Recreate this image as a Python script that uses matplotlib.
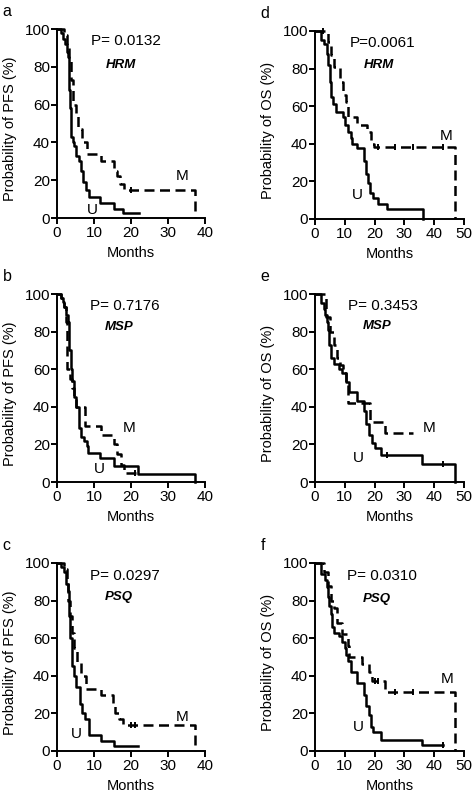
import matplotlib
matplotlib.use('Agg')
import matplotlib.pyplot as plt

plt.rcParams['font.family'] = ['Liberation Sans', 'DejaVu Sans']

# PFS, HRM (a)
a_u_t = [0, 1, 1.6, 2.2, 2.7, 3.0, 3.3, 3.6, 3.9, 4.2, 4.6, 5.2, 6.0, 6.5, 7.0, 7.8, 8.7, 11.7, 15.5, 17.8, 22.2]
a_u_s = [100, 98, 95, 92, 88, 85, 68, 58, 43, 40, 38, 33, 30, 25, 19, 15, 11, 8, 5, 2.5, 2.5]
a_m_t = [0, 2.0, 2.6, 3.2, 3.7, 4.2, 5.0, 5.8, 6.8, 8.0, 12.0, 15.5, 16.2, 17.0, 18.0, 37.2]
a_m_s = [100, 97, 91, 84, 73, 60, 55, 47, 40, 34, 30, 25, 22, 18, 15, 0]
a_m_cens = [(20, 15)]

# PFS, MSP (b)
b_u_t = [0, 1.0, 1.5, 2.0, 2.5, 3.0, 3.3, 3.7, 4.0, 4.5, 5.0, 6.0, 6.5, 7.2, 8.0, 8.5, 11.5, 15.3, 22.0, 37.3]
b_u_s = [100, 98, 96, 93, 89, 85, 70, 60, 54, 45, 40, 29, 24, 22, 19, 15.5, 13, 8.5, 4.5, 0]
b_m_t = [0, 1.0, 2.0, 2.5, 2.8, 3.6, 4.0, 4.5, 5.0, 7.6, 12.0, 15.5, 16.3, 17.2, 18.0, 21.5]
b_m_s = [100, 98, 93, 85, 60, 55, 50, 45, 40, 30, 25, 20, 15, 9, 5, 5]
b_m_cens = [(21, 5)]

# PFS, PSQ (c)
c_u_t = [0, 1.0, 2.0, 2.5, 3.0, 3.3, 3.6, 4.0, 4.5, 5.0, 6.2, 6.8, 7.5, 8.7, 11.8, 15.5, 22.0]
c_u_s = [100, 98, 95, 89, 85, 72, 60, 45, 40, 34, 25, 20, 17, 8.5, 5.5, 2.5, 2.5]
c_m_t = [0, 2.0, 2.6, 3.0, 3.5, 4.0, 4.5, 5.5, 6.5, 7.8, 12.0, 15.0, 15.8, 16.8, 17.8, 37.2]
c_m_s = [100, 97, 91, 80, 72, 63, 55, 47, 40, 33, 30, 25, 20, 17, 14, 0]
c_m_cens = [(20, 14), (21, 14)]

# OS, HRM (d)
d_u_t = [0, 2, 3, 3.9, 4.5, 5.0, 5.5, 6.0, 7.0, 9.5, 10.0, 11.0, 12.0, 12.5, 14.0, 16.3, 17.0, 17.8, 18.5, 19.5, 21.0, 24.0, 36.2]
d_u_s = [100, 95, 93, 88, 82, 73, 65, 61, 57, 54, 50, 46, 43, 40, 38, 31, 24, 19, 14, 11, 8, 5.5, 0]
d_m_t = [0, 4.5, 5.5, 6.4, 8.3, 9.3, 10.3, 11.0, 14.0, 17.5, 18.8, 19.8, 47.0]
d_m_s = [100, 94, 87, 81, 73, 66, 62, 54, 50, 46, 40, 38.5, 0]
d_m_cens = [(2.8, 100), (21, 38.5), (27, 38.5), (33, 38.5), (43, 38.5)]

# OS, MSP (e)
e_u_t = [0, 2, 3, 3.5, 4, 4.5, 4.8, 5.5, 6.5, 8, 9, 10.3, 11.5, 14, 16.5, 17, 18, 19, 20, 22, 36, 47]
e_u_s = [100, 95, 92, 89, 85, 81, 73, 66, 63, 60, 58, 53, 48, 43, 38, 31, 25, 21, 18, 14.5, 9.5, 0]
e_u_cens = [(24, 14.5), (43, 9.5)]
e_m_t = [0, 3.6, 5.0, 6.5, 7.5, 8.5, 9.5, 10.3, 11.0, 18.5, 23.5, 33.0]
e_m_s = [100, 88, 80, 73, 66, 62, 58, 53, 42, 32, 26, 26]

# OS, PSQ (f)
f_u_t = [0, 2, 3.5, 4, 4.5, 4.7, 5.5, 5.8, 6.5, 8, 9, 10, 10.5, 11, 12, 14, 16.5, 17, 18, 18.8, 19.5, 22, 36, 43]
f_u_s = [100, 94, 91, 87, 82, 77, 73, 66, 63, 61, 58, 55, 51, 48, 42, 36, 30, 24, 19, 13, 10, 6, 3, 3]
f_u_cens = [(43, 3)]
f_m_t = [0, 3.0, 4.5, 5.5, 6.5, 7.5, 9.0, 11.0, 11.5, 15.8, 18.0, 19.0, 23.5, 47.0]
f_m_s = [100, 95, 88, 80, 76, 68, 62, 56, 50, 46, 42, 37, 31.5, 0]
f_m_cens = [(20, 37), (21, 37), (27, 31.5), (33, 31.5)]

panels = [
    # letter, rect, xmax, ylabel, p text, gene, curves, text positions (p, gene, M, U)
    ('a', [0.1208, 0.7254, 0.3136, 0.2380], 40, 'Probability of PFS (%)', 'P= 0.0132', 'HRM',
     (a_u_t, a_u_s, [], a_m_t, a_m_s, a_m_cens), ((9.3, 93.5), (17.2, 81), (33.7, 22), (9.6, 4.4))),
    ('b', [0.1208, 0.3929, 0.3136, 0.2368], 40, 'Probability of PFS (%)', 'P= 0.7176', 'MSP',
     (b_u_t, b_u_s, [], b_m_t, b_m_s, b_m_cens), ((9.0, 93.6), (16.9, 82.5), (19.6, 28.6), (11.5, 7))),
    ('c', [0.1208, 0.0542, 0.3136, 0.2368], 40, 'Probability of PFS (%)', 'P= 0.0297', 'PSQ',
     (c_u_t, c_u_s, [], c_m_t, c_m_s, c_m_cens), ((9.0, 93), (16.8, 82), (33.7, 18.3), (5.2, 9))),
    ('d', [0.6674, 0.7242, 0.3157, 0.2368], 50, 'Probability of OS (%)', 'P=0.0061', 'HRM',
     (d_u_t, d_u_s, [], d_m_t, d_m_s, d_m_cens), ((11.5, 93.4), (21.6, 82), (44, 44), (14.3, 12.8))),
    ('e', [0.6674, 0.3929, 0.3157, 0.2368], 50, 'Probability of OS (%)', 'P= 0.3453', 'MSP',
     (e_u_t, e_u_s, e_u_cens, e_m_t, e_m_s, []), ((11.2, 93.4), (21, 82.8), (38.4, 28.7), (14.5, 13))),
    ('f', [0.6674, 0.0542, 0.3157, 0.2368], 50, 'Probability of OS (%)', 'P= 0.0310', 'PSQ',
     (f_u_t, f_u_s, f_u_cens, f_m_t, f_m_s, f_m_cens), ((10.9, 93), (20.7, 81), (44.3, 38.2), (14.6, 13))),
]

fig = plt.figure(figsize=(4.72, 7.94), dpi=100)

for letter, rect, xmax, ylab, ptxt, gene, curves, pos in panels:
    ax = fig.add_axes(rect)
    ut, us, ucens, mt, ms, mcens = curves
    ax.step(ut, us, where='post', color='black', lw=1.8, clip_on=False)
    ax.step(mt, ms, where='post', color='black', lw=1.8, dashes=(4, 2.2), clip_on=False)
    for cx, cy in ucens + mcens:
        ax.plot([cx], [cy], marker='|', color='black', ms=5, mew=1.4, clip_on=False)

    ax.set_xlim(0, xmax)
    ax.set_ylim(0, 100)
    ax.set_xticks(range(0, xmax + 1, 10))
    ax.set_yticks(range(0, 101, 20))
    for side in ['top', 'right']:
        ax.spines[side].set_visible(False)
    for side in ['left', 'bottom']:
        ax.spines[side].set_linewidth(1.4)
    ax.tick_params(axis='both', direction='out', length=4, width=1.4, labelsize=11)
    ax.tick_params(axis='y', pad=1)
    ax.tick_params(axis='x', pad=2)
    ax.set_ylabel(ylab, fontsize=10.5)
    ax.yaxis.set_label_coords(-0.27, 0.47)
    ax.set_xlabel('Months', fontsize=10.5)
    ax.xaxis.set_label_coords(0.5, -0.15)

    ax.text(pos[0][0], pos[0][1], ptxt, fontsize=11, ha='left', va='center')
    ax.text(pos[1][0], pos[1][1], gene, fontsize=9.5, fontweight='bold', fontstyle='italic',
            ha='center', va='center')
    ax.text(pos[2][0], pos[2][1], 'M', fontsize=11, ha='center', va='center')
    ax.text(pos[3][0], pos[3][1], 'U', fontsize=11, ha='center', va='center')

    # panel letter
    fig.text(rect[0] - 0.115, rect[1] + rect[3] + 0.022, letter,
             fontsize=11.5, ha='left', va='center')

fig.savefig('out.png', dpi=100)
